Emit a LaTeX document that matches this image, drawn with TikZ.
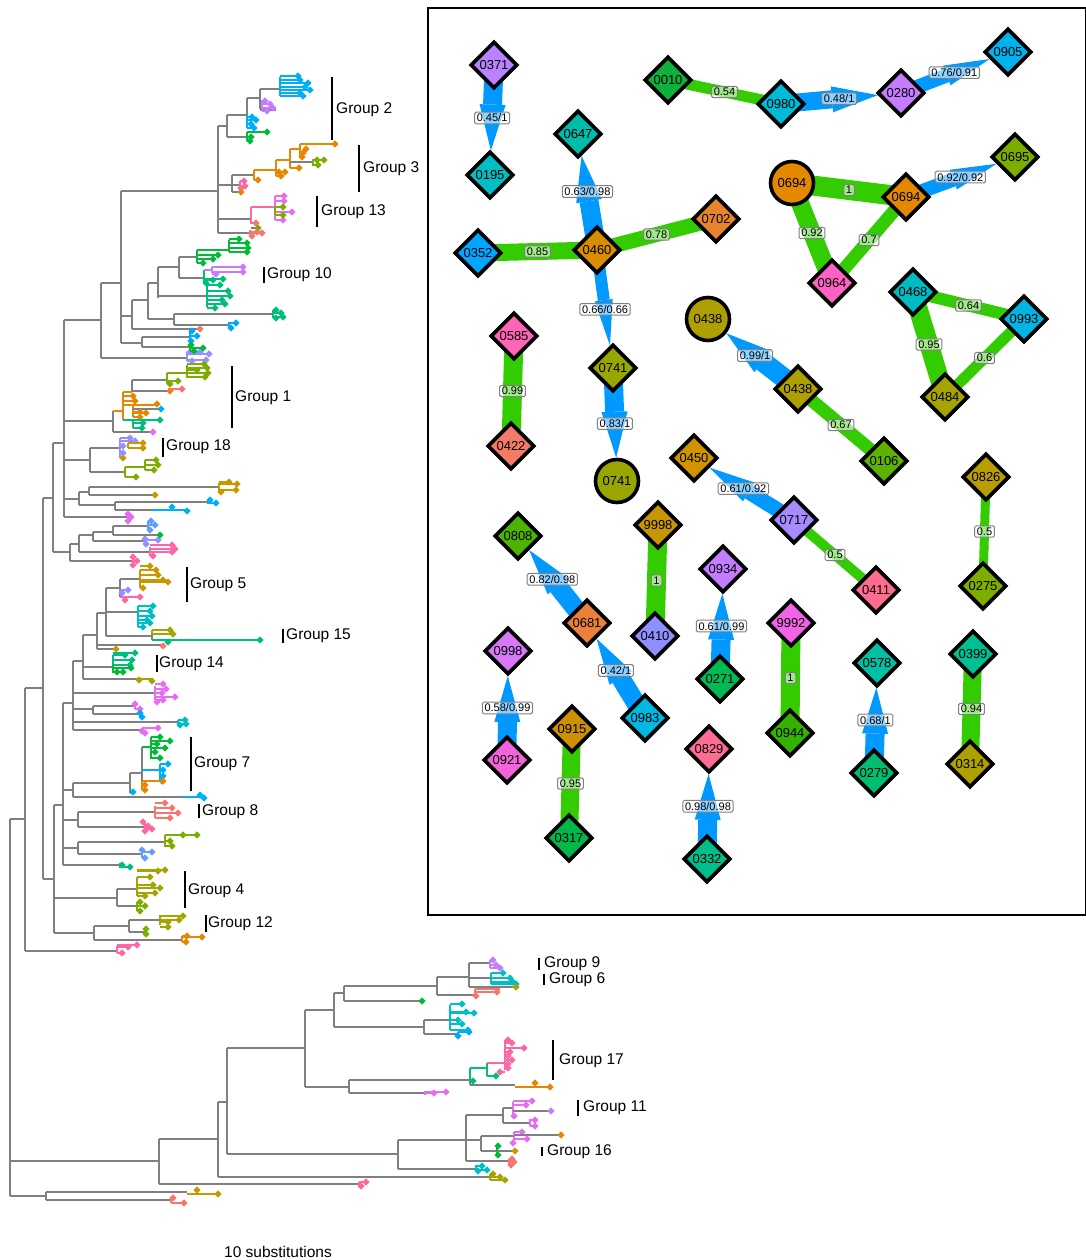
\documentclass[tikz,border=0pt]{standalone}
\usepackage{fontspec}
\setmainfont{Liberation Sans}
\usetikzlibrary{shapes.geometric,arrows.meta,backgrounds}
\definecolor{tgray}{HTML}{808080}
\definecolor{skyT}{HTML}{00B0F6}
\definecolor{purpleT}{HTML}{C77CFF}
\definecolor{greenT}{HTML}{00BA38}
\definecolor{orangeT}{HTML}{E58700}
\definecolor{oliveT}{HTML}{7CAE00}
\definecolor{pinkT}{HTML}{FF67A4}
\definecolor{magT}{HTML}{E76BF3}
\definecolor{salmonT}{HTML}{F8766D}
\definecolor{tealT}{HTML}{00BF7D}
\definecolor{cyanT}{HTML}{00BFC4}
\definecolor{dodgerT}{HTML}{00A9FF}
\definecolor{blueT}{HTML}{619CFF}
\definecolor{lavT}{HTML}{9590FF}
\definecolor{goldT}{HTML}{C99800}
\definecolor{yolT}{HTML}{A3A500}
\definecolor{egreen}{HTML}{33CC00}
\definecolor{eblue}{HTML}{0099FF}
% network node colours
\definecolor{c0371}{HTML}{B983FF}\definecolor{c0195}{HTML}{00BFC4}
\definecolor{c0010}{HTML}{0CB23B}\definecolor{c0980}{HTML}{00BBD7}
\definecolor{c0280}{HTML}{C77CFF}\definecolor{c0905}{HTML}{00B2EE}
\definecolor{c0647}{HTML}{00BCAA}\definecolor{c0460}{HTML}{DA8D00}
\definecolor{c0352}{HTML}{00A7FF}\definecolor{c0702}{HTML}{E8842B}
\definecolor{c0741}{HTML}{9AA600}\definecolor{c0585}{HTML}{FF64B5}
\definecolor{c0422}{HTML}{F47B68}\definecolor{c0438}{HTML}{ADA000}
\definecolor{c0106}{HTML}{5EB300}\definecolor{c0694}{HTML}{E38900}
\definecolor{c0695}{HTML}{7CAE00}\definecolor{c0964}{HTML}{FF62C4}
\definecolor{c0468}{HTML}{00BCC2}\definecolor{c0993}{HTML}{00B7E3}
\definecolor{c0484}{HTML}{A7A300}\definecolor{c0450}{HTML}{D09400}
\definecolor{c0717}{HTML}{A68AFF}\definecolor{c0411}{HTML}{FF6C90}
\definecolor{c0826}{HTML}{BA9D00}\definecolor{c0275}{HTML}{7DAD00}
\definecolor{c0808}{HTML}{4DB300}\definecolor{c0681}{HTML}{EA8039}
\definecolor{c0983}{HTML}{00B8E0}\definecolor{c9998}{HTML}{C79600}
\definecolor{c0410}{HTML}{8F90FF}\definecolor{c0934}{HTML}{C57DFF}
\definecolor{c0271}{HTML}{00BA55}\definecolor{c9992}{HTML}{F363E6}
\definecolor{c0944}{HTML}{35B200}\definecolor{c0578}{HTML}{00BFA5}
\definecolor{c0279}{HTML}{00BE70}\definecolor{c0399}{HTML}{00C091}
\definecolor{c0314}{HTML}{AEA000}\definecolor{c0998}{HTML}{D877F7}
\definecolor{c0921}{HTML}{F364DA}\definecolor{c0915}{HTML}{CC9000}
\definecolor{c0317}{HTML}{00B849}\definecolor{c0829}{HTML}{FF6C96}
\definecolor{c0332}{HTML}{00BE8A}
\tikzset{
  tr/.style={draw=tgray,line width=1.3pt},
  dnode/.style={diamond,draw=black,line width=3.6pt,minimum width=47pt,minimum height=47pt,inner sep=0pt,font=\fontsize{13}{15}\selectfont},
  cnode/.style={circle,draw=black,line width=3.6pt,minimum size=43pt,inner sep=0pt,font=\fontsize{13}{15}\selectfont},
  gedge/.style={draw=egreen,line width=#1},
  barrow/.style 2 args={draw=eblue,line width=#1pt,-{Triangle[length=46pt,width=#2pt,line width=0pt]}},
  elab/.style={fill=white,fill opacity=0.55,text opacity=1,draw=gray,rounded corners=1.5pt,inner xsep=2.2pt,inner ysep=1.8pt,line width=1pt,font=\fontsize{11}{12}\selectfont},
  glab/.style={anchor=west,inner sep=0pt,font=\fontsize{15.5}{17}\selectfont},
  gbar/.style={draw=black,line width=1.4pt}
}
\newcommand\qTV[3]{\draw[tr] (#1,#2) -- (#1,#3);}
\newcommand\qTH[3]{\draw[tr] (#1,#3) -- (#2,#3);}
\newcommand\qCV[4]{\draw[tr,draw=#1] (#2,#3) -- (#2,#4);}
\newcommand\qCH[4]{\draw[tr,draw=#1] (#2,#4) -- (#3,#4);}
\newcommand\qTP[3]{\fill[#1] (#2,#3) +(-3.6,0) -- +(0,3.6) -- +(3.6,0) -- +(0,-3.6) -- cycle;}
\newcommand\qRK[5]{\qCV{#1}{#2}{#3}{#4}\foreach \px/\py in {#5}{\qCH{#1}{#2}{\px}{\py}\qTP{#1}{\px}{\py}}}
\begin{document}
\begin{tikzpicture}[x=1pt,y=-1pt]
\useasboundingbox (0,0) rectangle (1086,1260);
% ================= TREE =================
\qTV{10}{819}{1196}\qTH{10}{25}{819}
\qTV{25}{688}{951}\qTH{25}{117}{951}
\qRK{pinkT}{117}{946}{953}{122/953,128/947,137/945}
\qTH{25}{43}{688}
\qTV{43}{498}{879}\qTH{43}{53}{498}
\qTV{53}{443}{552}\qTH{53}{64}{443}
\qTV{64}{320}{517}\qTH{64}{101}{320}
\qTV{101}{283}{358}\qTH{101}{187}{358}
\qRK{lavT}{187}{352}{361}{190/352,200/352,209/354,192/361,206/360}
\qTH{101}{121}{283}
\qTV{121}{191}{343}\qTH{121}{218}{191}
\qTV{218}{126}{233}\qTH{218}{227}{126}
\qTV{227}{115}{137}\qTH{227}{247}{115}
\qTV{247}{98}{115}
\qRK{skyT}{247}{115}{128}{252/117,256/120,251/124,254/128}
\qTH{247}{260}{98}
\qTV{260}{89}{109}\qTH{260}{280}{89}
\qRK{skyT}{280}{77}{96}{298/76,300/80,308/83,305/87,310/90,300/93,303/96}
\qTH{260}{276}{110}
\qRK{purpleT}{262}{100}{110}{265/101,270/104,273/108,267/111}
\qTH{227}{247}{137}
\qRK{greenT}{247}{132}{141}{267/132,251/137,250/141}
\qTH{218}{232}{185}\qTV{232}{175}{192}
\qTH{232}{254}{175}
\qCV{orangeT}{254}{170}{180}\qCH{orangeT}{254}{258}{180}\qTP{orangeT}{258}{180}
\qCH{orangeT}{254}{276}{170}\qCV{orangeT}{276}{160}{176}
\qCH{orangeT}{276}{281}{176}\qTP{orangeT}{281}{176}\qTP{orangeT}{285}{172}\qTP{orangeT}{279}{172}
\qCH{orangeT}{276}{290}{160}\qCV{orangeT}{290}{149}{168}
\qCH{orangeT}{290}{299}{168}\qTP{orangeT}{299}{168}
\qCH{orangeT}{290}{300}{149}\qCV{orangeT}{300}{144}{157}
\qCH{orangeT}{300}{335}{144}\qTP{orangeT}{335}{144}
\qTP{orangeT}{306}{149}\qTP{orangeT}{303}{153}\qTP{orangeT}{302}{157}
\qTH{290}{313}{162}
\qRK{oliveT}{313}{159}{166}{318/165,324/160,317/160}
\qTH{232}{240}{185}
\qRK{pinkT}{240}{181}{188}{244/181,245/186,241/188}
\qTH{232}{241}{192}\qTP{orangeT}{241}{192}
% group 13
\qTH{218}{251}{219}
\qCV{pinkT}{251}{207}{224}\qCH{pinkT}{251}{275}{207}
\qRK{magT}{275}{196}{220}{284/196,284/201,292/212,283/220}
\qRK{oliveT}{275}{207}{215}{283/207,283/215}
\qCH{pinkT}{251}{256}{223}\qTP{salmonT}{256}{223}
\qTH{251}{258}{228}\qTP{oliveT}{258}{228}
\qTH{218}{250}{233}
\qRK{salmonT}{250}{230}{236}{252/236,257/232,262/233}
% group 10 region
\qTH{121}{132}{316}\qTV{132}{300}{329}
\qTH{132}{200}{329}\qTP{salmonT}{200}{329}
\qTH{132}{148}{300}\qTV{148}{283}{319}
\qTH{148}{174}{319}\qTV{174}{314}{325}
\qTH{174}{273}{314}
\qRK{tealT}{273}{310}{318}{276/310,281/313,283/317,276/318}
\qTH{174}{229}{325}
\qRK{dodgerT}{229}{322}{328}{231/328,236/323}
\qTH{148}{158}{283}\qTV{158}{267}{298}
\qTH{158}{179}{267}\qTV{179}{257}{278}
\qTH{179}{197}{257}
\qCV{greenT}{197}{250}{263}\qCH{greenT}{197}{229}{250}
\qRK{greenT}{229}{240}{252}{239/239,247/243,248/248,247/252}
\qRK{greenT}{197}{255}{263}{203/263,213/259,218/255}
\qTH{179}{204}{278}
\qCV{tealT}{204}{270}{283}\qCH{purpleT}{204}{212}{270}
\qRK{purpleT}{212}{267}{273}{243/267,243/272,216/274}
\qRK{tealT}{204}{279}{283}{223/279,213/280,206/283}
\qTH{158}{207}{296}
\qRK{tealT}{207}{285}{307}{220/285,228/291,230/296,222/300,225/304,215/308}
\qTH{121}{142}{343}\qTV{142}{337}{347}
\qTH{142}{190}{337}
\qRK{dodgerT}{190}{331}{341}{192/331,197/336,191/341}
\qTH{142}{190}{347}
\qRK{greenT}{190}{344}{351}{194/351,203/348,191/345}
% group 1
\qTH{64}{113}{421}\qTV{113}{411}{432}
\qTH{113}{152}{432}\qTP{magT}{153}{432}
\qCH{orangeT}{113}{123}{411}\qCV{orangeT}{123}{392}{420}
\qCH{orangeT}{123}{132}{392}\qTV{132}{380}{392}
\qTH{132}{167}{380}
\qCV{oliveT}{167}{373}{384}\qCH{oliveT}{167}{187}{373}
\qRK{oliveT}{187}{365}{378}{204/364,207/368,208/373,205/377,197/370}
\qCH{oliveT}{167}{178}{381}\qTP{oliveT}{170}{384}\qTP{oliveT}{178}{381}
\qTH{132}{168}{391}\qTP{orangeT}{170}{391}\qTP{salmonT}{182}{389}\qCH{salmonT}{168}{182}{389}
\qRK{orangeT}{123}{396}{401}{133/396,135/401}
\qCH{orangeT}{123}{133}{405}\qCV{orangeT}{133}{405}{416}
\qCH{orangeT}{133}{157}{405}\qTP{orangeT}{157}{404}
\qTH{133}{161}{409}\qTP{skyT}{161}{409}
\qRK{orangeT}{133}{412}{417}{140/412,146/413,140/417}
\qCH{tealT}{123}{133}{420}
\qRK{tealT}{133}{420}{428}{160/420,143/423,142/428}
% group 18
\qTH{64}{90}{460}\qTV{90}{448}{472}
\qTH{90}{120}{448}
\qRK{lavT}{120}{438}{458}{130/438,135/441,123/446,123/453}
\qRK{goldT}{128}{443}{448}{143/443,143/448}
\qTP{goldT}{123}{458}
\qTH{90}{125}{472}
\qCV{oliveT}{125}{467}{477}\qCH{oliveT}{125}{145}{467}
\qRK{oliveT}{145}{460}{470}{156/460,158/465,154/470}
\qCH{oliveT}{125}{136}{477}\qTP{oliveT}{136}{477}
\qTH{64}{79}{499}\qTV{79}{492}{505}
\qTH{79}{89}{492}\qTV{89}{487}{495}
\qTH{89}{219}{487}
\qRK{goldT}{219}{483}{492}{229/482,237/484,236/490,221/492}
\qTH{89}{155}{495}\qTP{goldT}{155}{495}
\qTH{79}{115}{505}\qTV{115}{502}{510}
\qTH{115}{208}{502}
\qRK{skyT}{208}{500}{504}{210/500,216/503}
\qTH{115}{152}{510}
\qCH{skyT}{152}{187}{510}\qTP{skyT}{172}{507}\qTP{skyT}{187}{511}
\qTH{64}{128}{517}
\qRK{magT}{128}{514}{521}{128/514,131/517,128/521}
\qTH{53}{70}{552}\qTV{70}{544}{561}
\qTH{70}{133}{561}
\qRK{pinkT}{133}{557}{565}{133/557,137/561,133/565}
\qTH{70}{79}{544}\qTV{79}{535}{552}
\qTH{79}{150}{552}
\qRK{pinkT}{150}{547}{556}{172/545,175/549,172/552,153/556}
\qTH{79}{93}{535}\qTV{93}{532}{541}
\qTH{93}{145}{541}
\qRK{lavT}{145}{539}{544}{145/539,158/540,146/544}
\qTH{93}{113}{532}\qTV{113}{526}{535}
\qTH{113}{148}{526}
\qRK{blueT}{148}{521}{530}{151/521,155/525,150/530}
\qTH{113}{160}{535}\qTP{greenT}{160}{535}
% group 5 / 15
\qTH{83}{97}{635}\qTV{97}{613}{649}
\qTH{97}{106}{613}\qTV{106}{588}{636}
\qTH{106}{120}{588}\qTV{120}{579}{597}
\qTH{120}{140}{579}
\qRK{goldT}{140}{570}{588}{150/566,156/570,158/575,163/580,168/582,143/588}
\qRK{lavT}{120}{590}{593}{122/593,128/590}
\qCH{pinkT}{120}{140}{597}\qTP{pinkT}{140}{597}\qTP{pinkT}{125}{600}
\qTH{106}{138}{612}
\qRK{cyanT}{138}{606}{627}{153/606,150/611,152/616,147/620,150/623,143/627}
\qTH{106}{152}{636}\qTV{152}{632}{640}
\qRK{yolT}{152}{630}{634}{170/630,173/634}
\qCH{tealT}{152}{260}{640}\qTP{tealT}{260}{640}\qTP{tealT}{168}{642}
\qTH{97}{163}{645}\qTP{salmonT}{163}{646}
\qTH{97}{116}{649}\qTP{goldT}{116}{649}
% group 14
\qTV{83}{635}{679}\qTH{73}{83}{661}
\qTH{83}{113}{667}
\qRK{tealT}{113}{655}{665}{125/655,135/653,132/660,130/665}
\qRK{greenT}{113}{665}{673}{117/672,123/672,131/668}
\qTH{83}{138}{679}
\qCH{yolT}{138}{152}{679}\qTP{yolT}{139}{680}\qTP{yolT}{152}{681}
\qTV{73}{661}{730}
\qTH{73}{155}{693}
\qRK{magT}{155}{686}{700}{163/684,166/689,162/693,175/697,163/700,157/702}
\qTH{73}{93}{709}\qTV{93}{706}{714}
\qTH{93}{135}{706}
\qRK{magT}{135}{704}{709}{135/704,140/709}
\qTH{93}{140}{714}
\qRK{dodgerT}{140}{713}{717}{140/713,142/717}
\qTH{73}{178}{722}
\qRK{cyanT}{178}{720}{724}{185/720,186/724,180/725}
\qTH{73}{142}{730}
\qRK{magT}{142}{728}{733}{158/728,142/731,145/733}
% group 7 / 8
\qTV{63}{703}{865}\qTH{63}{73}{703}
\qTH{63}{73}{790}\qTV{73}{783}{797}
\qTH{73}{130}{783}\qTV{130}{773}{793}
\qTH{130}{133}{793}\qTP{skyT}{133}{792}
\qTH{130}{142}{773}\qTV{142}{747}{781}
\qCH{greenT}{142}{151}{747}
\qRK{greenT}{151}{737}{759}{160/737,170/741,157/744,165/748,155/752,160/758}
\qCH{skyT}{142}{160}{770}
\qRK{skyT}{160}{764}{781}{168/764,163/770,163/776,162/781}
\qCH{orangeT}{142}{163}{781}\qTP{orangeT}{163}{781}
\qRK{orangeT}{142}{781}{790}{145/785,145/790}
\qTH{73}{183}{797}
\qCH{skyT}{183}{203}{797}\qTP{skyT}{200}{795}\qTP{skyT}{204}{798}
\qTH{63}{78}{820}\qTV{78}{812}{827}
\qTH{78}{155}{812}
\qRK{salmonT}{155}{806}{818}{165/803,172/808,178/813,170/818}
\qTH{78}{145}{827}
\qRK{pinkT}{145}{822}{831}{143/822,148/826,152/829,145/831}
\qTH{63}{78}{848}\qTV{78}{842}{854}
\qTH{78}{165}{842}
\qRK{oliveT}{165}{835}{847}{183/835,197/835,170/841,172/846}
\qTH{78}{142}{854}
\qRK{blueT}{142}{850}{858}{142/850,152/852,145/858}
\qTH{63}{120}{865}
\qRK{tealT}{120}{863}{868}{122/865,130/867}
% group 4 / 12
\qTH{43}{54}{879}\qTV{54}{805}{933}
\qTH{54}{63}{805}
\qTH{54}{117}{898}\qTV{117}{889}{906}
\qTH{117}{137}{889}
\qRK{yolT}{137}{877}{896}{150/877,158/871,165/870,153/885,160/888,155/893,145/896}
\qTH{117}{137}{906}
\qRK{oliveT}{137}{902}{911}{140/902,145/906,140/911}
\qTH{54}{94}{933}\qTV{94}{926}{940}
\qTH{94}{129}{926}\qTV{129}{920}{932}
\qTH{129}{160}{920}
\qRK{yolT}{160}{915}{925}{183/916,179/920,168/922,168/927}
\qTH{129}{146}{932}
\qRK{oliveT}{146}{929}{934}{146/929,146/934}
\qTH{94}{182}{940}
\qRK{orangeT}{182}{936}{942}{187/936,202/937,186/942}
% bottom clade
\qTH{10}{159}{1161}\qTV{159}{1139}{1184}
\qTH{159}{362}{1184}
\qRK{pinkT}{359}{1182}{1186}{361/1186,366/1182}
\qTH{159}{218}{1139}\qTV{218}{1102}{1177}
\qTH{218}{490}{1177}
\qRK{yolT}{490}{1174}{1180}{493/1174,500/1177,505/1180}
\qTH{218}{227}{1102}\qTV{227}{1048}{1154}
\qTH{227}{398}{1154}\qTV{398}{1140}{1169}
\qTH{398}{476}{1169}
\qRK{cyanT}{476}{1165}{1171}{482/1166,487/1170,478/1171}
\qTH{398}{466}{1140}\qTV{466}{1115}{1161}
\qTH{466}{503}{1115}\qTV{503}{1108}{1123}
\qTH{503}{513}{1108}
\qRK{magT}{513}{1102}{1116}{532/1101,526/1105,514/1116}
\qTH{513}{551}{1111}\qTP{purpleT}{551}{1111}
\qTH{503}{530}{1123}
\qRK{magT}{530}{1119}{1126}{535/1120,535/1126}
\qTH{466}{481}{1140}\qTV{481}{1136}{1151}
\qTH{481}{514}{1136}
\qRK{magT}{514}{1132}{1143}{522/1132,527/1139,513/1143}
\qTH{514}{561}{1135}\qTP{orangeT}{561}{1135}
\qTH{481}{497}{1151}
\qRK{greenT}{497}{1146}{1155}{498/1146,498/1155}
\qTH{497}{515}{1151}\qTP{goldT}{515}{1151}
\qTH{466}{509}{1161}
\qRK{salmonT}{509}{1159}{1165}{512/1159,514/1162,511/1165}
\qTH{227}{305}{1048}\qTV{305}{1010}{1087}
\qTH{305}{349}{1087}\qTV{349}{1080}{1093}
\qTH{349}{470}{1080}\qTV{470}{1068}{1085}
\qCH{tealT}{470}{487}{1068}\qCV{tealT}{470}{1068}{1081}
\qCH{tealT}{487}{496}{1076}\qTP{tealT}{496}{1076}\qTP{tealT}{473}{1081}
\qCV{tealT}{487}{1063}{1076}
\qCH{pinkT}{487}{505}{1063}
\qRK{pinkT}{505}{1040}{1070}{508/1040,512/1043,524/1048,510/1052,508/1056,512/1060,508/1064,508/1068,500/1072}
\qTH{470}{515}{1085}
\qCH{orangeT}{515}{550}{1087}\qTP{orangeT}{535}{1083}\qTP{orangeT}{550}{1087}
\qTH{349}{425}{1093}
\qRK{magT}{425}{1091}{1095}{434/1093,446/1092}
\qTH{305}{334}{1010}\qTV{334}{993}{1027}
\qTH{334}{424}{1027}\qTV{424}{1020}{1034}
\qTH{424}{450}{1020}
\qRK{cyanT}{450}{1005}{1030}{462/1004,466/1012,474/1013,458/1020,462/1024,468/1030}
\qTH{424}{458}{1034}
\qRK{dodgerT}{458}{1032}{1036}{458/1036,469/1032}
\qTH{334}{344}{993}\qTV{344}{986}{1001}
\qTH{344}{422}{1001}\qTP{greenT}{422}{1001}
\qTH{344}{437}{986}\qTV{437}{977}{995}
\qTH{437}{475}{995}
\qRK{salmonT}{475}{989}{996}{476/996,497/992,497/989}
\qTH{437}{469}{977}\qTV{469}{963}{987}
\qTH{469}{490}{963}
\qRK{purpleT}{490}{960}{968}{493/960,496/965,500/968}
\qTH{469}{491}{978}
\qRK{cyanT}{491}{973}{984}{503/973,510/978,513/982,516/984}
\qTH{469}{516}{987}\qTP{yolT}{516}{987}
\qTH{10}{46}{1196}\qTV{46}{1192}{1200}
\qTH{46}{187}{1192}
\qCH{goldT}{187}{218}{1194}\qTP{goldT}{197}{1190}\qTP{goldT}{218}{1194}
\qTH{46}{171}{1200}
\qRK{salmonT}{171}{1198}{1203}{173/1198,184/1203}
% group labels
\draw[gbar] (332,77) -- (332,140); \node[glab] (g2) at (336,110) {Group 2};
\draw[gbar] (359,145) -- (359,192); \node[glab] (g3) at (363,169) {Group 3};
\draw[gbar] (317,196) -- (317,227); \node[glab] (g13) at (321,212) {Group 13};
\draw[gbar] (264,267) -- (264,283); \node[glab] (g10) at (267,275) {Group 10};
\draw[gbar] (232,366) -- (232,428); \node[glab] (g1) at (235,398) {Group 1};
\draw[gbar] (163,438) -- (163,457); \node[glab] (g18) at (166,447) {Group 18};
\draw[gbar] (187,567) -- (187,602); \node[glab] (g5) at (190,585) {Group 5};
\draw[gbar] (283,629) -- (283,643); \node[glab] (g15) at (286,636) {Group 15};
\draw[gbar] (157,655) -- (157,672); \node[glab] (g14) at (159,664) {Group 14};
\draw[gbar] (191,737) -- (191,791); \node[glab] (g7) at (194,764) {Group 7};
\draw[gbar] (199,804) -- (199,818); \node[glab] (g8) at (202,812) {Group 8};
\draw[gbar] (185,871) -- (185,908); \node[glab] (g4) at (188,891) {Group 4};
\draw[gbar] (206,915) -- (206,932); \node[glab] (g12) at (208,924) {Group 12};
\draw[gbar] (539,958) -- (539,970); \node[glab] (g9) at (544,964) {Group 9};
\draw[gbar] (544,974) -- (544,985); \node[glab] (g6) at (549,980) {Group 6};
\draw[gbar] (553,1040) -- (553,1080); \node[glab] (g17) at (559,1061) {Group 17};
\draw[gbar] (578,1100) -- (578,1116); \node[glab] (g11) at (583,1108) {Group 11};
\draw[gbar] (542,1147) -- (542,1156); \node[glab] (g16) at (547,1152) {Group 16};
\node[font=\fontsize{15.5}{17}\selectfont,inner sep=0pt] (scale) at (278,1252) {10 substitutions};
% ================= NETWORK PANEL =================
\draw[line width=2.5pt] (428,8) rectangle (1086,915);
\node[dnode,fill=c0371] (n0371) at (494,65) {0371};
\node[dnode,fill=c0195] (n0195) at (490,175) {0195};
\node[dnode,fill=c0010] (n0010) at (668,80) {0010};
\node[dnode,fill=c0980] (n0980) at (781,104) {0980};
\node[dnode,fill=c0280] (n0280) at (901,93) {0280};
\node[dnode,fill=c0905] (n0905) at (1008,52) {0905};
\node[dnode,fill=c0647] (n0647) at (578,134) {0647};
\node[dnode,fill=c0460] (n0460) at (597,250) {0460};
\node[dnode,fill=c0352] (n0352) at (478,253) {0352};
\node[dnode,fill=c0702] (n0702) at (716,219) {0702};
\node[dnode,fill=c0741] (n0741d) at (613,368) {0741};
\node[cnode,fill=c0741] (n0741c) at (617,481) {0741};
\node[dnode,fill=c0585] (n0585) at (514,336) {0585};
\node[dnode,fill=c0422] (n0422) at (511,446) {0422};
\node[cnode,fill=c0438] (n0438c) at (708,319) {0438};
\node[dnode,fill=c0438] (n0438d) at (798,389) {0438};
\node[dnode,fill=c0106] (n0106) at (884,461) {0106};
\node[cnode,fill=c0694] (n0694c) at (792,183) {0694};
\node[dnode,fill=c0694] (n0694d) at (906,197) {0694};
\node[dnode,fill=c0695] (n0695) at (1015,157) {0695};
\node[dnode,fill=c0964] (n0964) at (832,283) {0964};
\node[dnode,fill=c0468] (n0468) at (913,292) {0468};
\node[dnode,fill=c0993] (n0993) at (1024,319) {0993};
\node[dnode,fill=c0484] (n0484) at (945,397) {0484};
\node[dnode,fill=c0450] (n0450) at (694,458) {0450};
\node[dnode,fill=c0717] (n0717) at (794,520) {0717};
\node[dnode,fill=c0411] (n0411) at (876,590) {0411};
\node[dnode,fill=c0826] (n0826) at (986,477) {0826};
\node[dnode,fill=c0275] (n0275) at (983,586) {0275};
\node[dnode,fill=c0808] (n0808) at (518,536) {0808};
\node[dnode,fill=c0681] (n0681) at (587,623) {0681};
\node[dnode,fill=c0983] (n0983) at (645,718) {0983};
\node[dnode,fill=c9998] (n9998) at (658,525) {9998};
\node[dnode,fill=c0410] (n0410) at (655,636) {0410};
\node[dnode,fill=c0934] (n0934) at (723,569) {0934};
\node[dnode,fill=c0271] (n0271) at (720,679) {0271};
\node[dnode,fill=c9992] (n9992) at (791,623) {9992};
\node[dnode,fill=c0944] (n0944) at (790,733) {0944};
\node[dnode,fill=c0578] (n0578) at (877,663) {0578};
\node[dnode,fill=c0279] (n0279) at (874,773) {0279};
\node[dnode,fill=c0399] (n0399) at (973,654) {0399};
\node[dnode,fill=c0314] (n0314) at (970,764) {0314};
\node[dnode,fill=c0998] (n0998) at (508,651) {0998};
\node[dnode,fill=c0921] (n0921) at (507,760) {0921};
\node[dnode,fill=c0915] (n0915) at (572,729) {0915};
\node[dnode,fill=c0317] (n0317) at (569,838) {0317};
\node[dnode,fill=c0829] (n0829) at (709,749) {0829};
\node[dnode,fill=c0332] (n0332) at (707,859) {0332};
\begin{scope}[on background layer]
\draw[gedge=11pt] (n0010.center) -- (n0980.center) node[elab,midway]{0.54};
\draw[gedge=17pt] (n0352.center) -- (n0460.center) node[elab,midway]{0.85};
\draw[gedge=15pt] (n0460.center) -- (n0702.center) node[elab,midway]{0.78};
\draw[gedge=19pt] (n0585.center) -- (n0422.center) node[elab,midway]{0.99};
\draw[gedge=20pt] (n0694c.center) -- (n0694d.center) node[elab,midway]{1};
\draw[gedge=18pt] (n0694c.center) -- (n0964.center) node[elab,midway]{0.92};
\draw[gedge=13pt] (n0694d.center) -- (n0964.center) node[elab,midway]{0.7};
\draw[gedge=12pt] (n0468.center) -- (n0993.center) node[elab,midway]{0.64};
\draw[gedge=19pt] (n0468.center) -- (n0484.center) node[elab,midway]{0.95};
\draw[gedge=11pt] (n0993.center) -- (n0484.center) node[elab,midway]{0.6};
\draw[gedge=13pt] (n0438d.center) -- (n0106.center) node[elab,midway]{0.67};
\draw[gedge=10pt] (n0717.center) -- (n0411.center) node[elab,midway]{0.5};
\draw[gedge=9pt] (n0826.center) -- (n0275.center) node[elab,midway]{0.5};
\draw[gedge=19pt] (n9998.center) -- (n0410.center) node[elab,midway]{1};
\draw[gedge=19pt] (n9992.center) -- (n0944.center) node[elab,midway]{1};
\draw[gedge=18pt] (n0399.center) -- (n0314.center) node[elab,midway]{0.94};
\draw[gedge=18pt] (n0915.center) -- (n0317.center) node[elab,midway]{0.95};
\draw[barrow={19}{26}] (n0371.center) -- (n0195) node[elab,pos=0.62]{0.45/1};
\draw[barrow={18}{26}] (n0980.center) -- (n0280) node[elab,pos=0.6]{0.48/1};
\draw[barrow={14}{21}] (n0280.center) -- (n0905) node[elab,pos=0.6]{0.76/0.91};
\draw[barrow={19}{26}] (n0460.center) -- (n0647) node[elab,pos=0.62]{0.63/0.98};
\draw[barrow={12}{18}] (n0460.center) -- (n0741d) node[elab,pos=0.62]{0.66/0.66};
\draw[barrow={19}{26}] (n0741d.center) -- (n0741c) node[elab,pos=0.62]{0.83/1};
\draw[barrow={20}{27}] (n0438d.center) -- (n0438c) node[elab,pos=0.6]{0.99/1};
\draw[barrow={14}{21}] (n0694d.center) -- (n0695) node[elab,pos=0.6]{0.92/0.92};
\draw[barrow={15}{22}] (n0717.center) -- (n0450) node[elab,pos=0.6]{0.61/0.92};
\draw[barrow={19}{26}] (n0681.center) -- (n0808) node[elab,pos=0.6]{0.82/0.98};
\draw[barrow={19}{26}] (n0983.center) -- (n0681) node[elab,pos=0.6]{0.42/1};
\draw[barrow={19}{26}] (n0271.center) -- (n0934) node[elab,pos=0.62]{0.61/0.99};
\draw[barrow={19}{26}] (n0921.center) -- (n0998) node[elab,pos=0.62]{0.58/0.99};
\draw[barrow={19}{26}] (n0279.center) -- (n0578) node[elab,pos=0.62]{0.68/1};
\draw[barrow={19}{26}] (n0332.center) -- (n0829) node[elab,pos=0.62]{0.98/0.98};
\end{scope}
\end{tikzpicture}
\end{document}
